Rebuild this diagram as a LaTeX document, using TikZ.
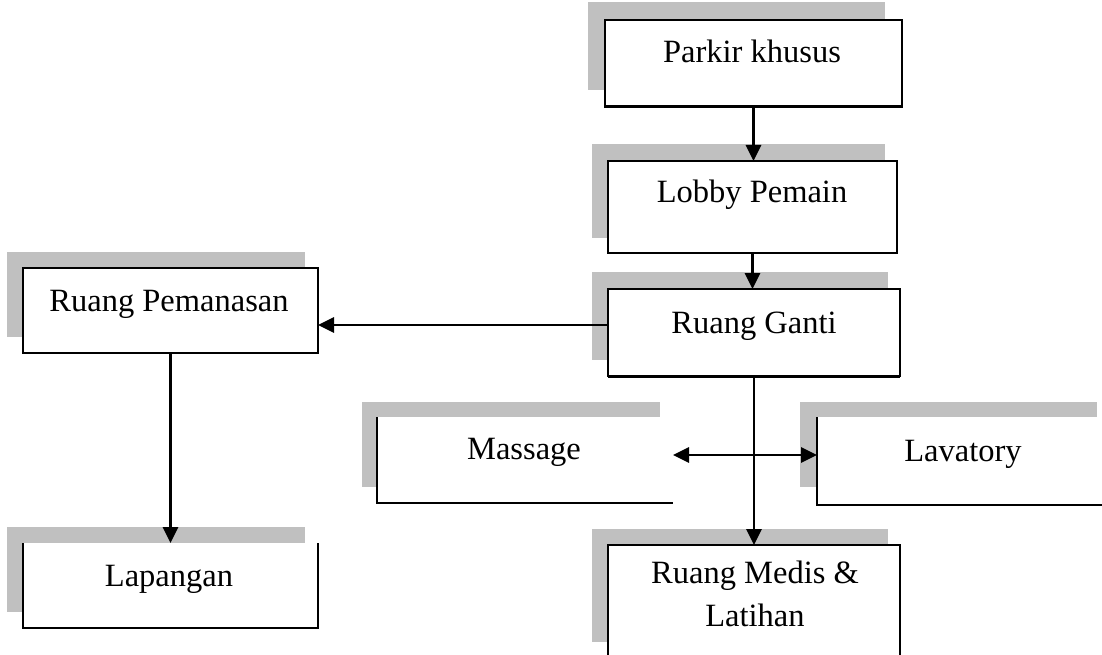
\documentclass[tikz,border=0pt]{standalone}
\usepackage{fontspec}
\setmainfont{Liberation Serif}
\usetikzlibrary{arrows.meta,fit}
\definecolor{shadowgray}{RGB}{192,192,192}
\tikzset{
  shadowfill/.style={fill=shadowgray, draw=none},
  roomfill/.style={fill=white, draw=none, inner sep=0pt, outer sep=0pt},
  rim/.style={line width=1.8pt, line join=miter},
  thickrim/.style={line width=3pt},
  lbl/.style={font=\fontsize{32.5}{40}\selectfont, inner sep=0pt, anchor=base},
  arr/.style={line width=2.8pt, -{Triangle[length=16pt,width=15pt]}},
  darr/.style={line width=2.8pt, {Triangle[length=16pt,width=15pt]}-{Triangle[length=16pt,width=15pt]}},
}
% room box: name, left, top, right, bottom (pixel-like units, y downwards)
\newcommand\roombox[5]{\node[roomfill, fit={(#2,#3) (#4,#5)}] (#1) {};}
\begin{document}
\begin{tikzpicture}[x=1pt,y=-1pt]
\useasboundingbox (0,0) rectangle (1102,655);
\clip (0,0) rectangle (1102,655);

% offset shadows
\fill[shadowfill] (588,2) rectangle (885,90);
\fill[shadowfill] (592,144) rectangle (885,238);
\fill[shadowfill] (592,272) rectangle (888,360);
\fill[shadowfill] (7,252) rectangle (305,337);
\fill[shadowfill] (362,402) rectangle (660,487);
\fill[shadowfill] (800,402) rectangle (1097,487);
\fill[shadowfill] (7,527) rectangle (305,612);
\fill[shadowfill] (592,529) rectangle (888,642);

% white room boxes
\roombox{parkir}{605}{20}{902}{107}
\roombox{lobby}{608}{161}{897}{253}
\roombox{ganti}{608}{289}{900}{376}
\roombox{pemanasan}{23}{268}{318}{353}
\roombox{massage}{377}{417}{673}{503}
\roombox{lavatory}{817}{417}{1130}{505}
\roombox{lapangan}{23}{543}{318}{628}
\roombox{medis}{608}{545}{900}{690}

% outlines
\draw[rim] (parkir.south west) rectangle (parkir.north east);
\draw[thickrim] (parkir.south west) -- (parkir.south east);
\draw[rim] (lobby.south west) rectangle (lobby.north east);
\draw[rim] (ganti.south west) rectangle (ganti.north east);
\draw[thickrim] (ganti.south west) -- (ganti.south east);
\draw[rim] (pemanasan.south west) rectangle (pemanasan.north east);
\draw[rim] (massage.north west) -- (massage.south west) -- (massage.south east);
\draw[rim] (lavatory.north west) -- (lavatory.south west) -- (lavatory.south east);
\draw[rim] (lapangan.north west) -- (lapangan.south west) -- (lapangan.south east) -- (lapangan.north east);
\draw[rim] (medis.south west) -- (medis.north west) -- (medis.north east) -- (medis.south east);

% labels
\node[lbl] (parkir-t) at (752,63) {Parkir khusus};
\node[lbl] (lobby-t) at (752,203) {Lobby Pemain};
\node[lbl] (ganti-t) at (754,333) {Ruang Ganti};
\node[lbl] (pemanasan-t) at (169,311) {Ruang Pemanasan};
\node[lbl] (massage-t) at (524,459) {Massage};
\node[lbl] (lavatory-t) at (963,461) {Lavatory};
\node[lbl] (lapangan-t) at (169,586) {Lapangan};
\node[lbl] (medis-t1) at (755,583) {Ruang Medis \&};
\node[lbl] (medis-t2) at (755,626) {Latihan};

% connectors
\coordinate (westrow) at (0,325);
\coordinate (siderow) at (0,455);
\draw[arr] (parkir.south) -- (parkir.south |- lobby.north);
\draw[arr] (lobby.south) -- (lobby.south |- ganti.north);
\draw[arr] (ganti.west |- westrow) -- (pemanasan.east |- westrow);
\draw[arr] (pemanasan.south) -- (lapangan.north);
\draw[arr] (ganti.south) -- (medis.north);
\draw[darr] (massage.east |- siderow) -- (lavatory.west |- siderow);
\end{tikzpicture}
\end{document}
